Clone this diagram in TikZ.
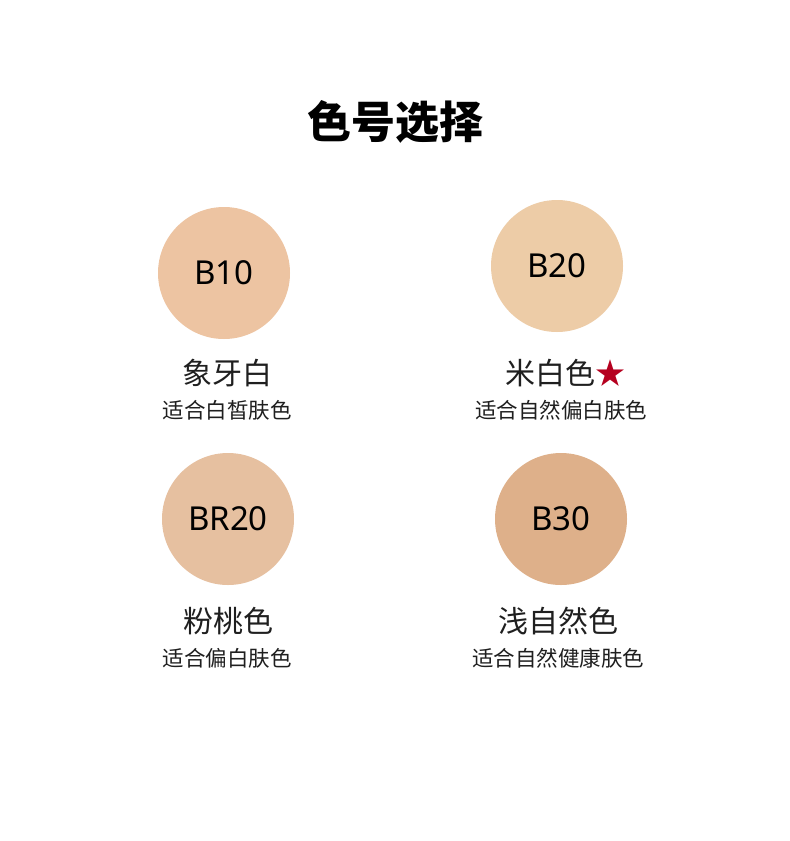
\documentclass[tikz,border=0pt]{standalone}
\usepackage{fontspec}
\setmainfont{Noto Sans}
\newfontfamily\cjk{Noto Sans CJK SC}
\definecolor{shadeA}{HTML}{EDC4A2}
\definecolor{shadeB}{HTML}{EDCCA7}
\definecolor{shadeC}{HTML}{E6C0A0}
\definecolor{shadeD}{HTML}{DEB08A}
\definecolor{starred}{HTML}{B5001F}
\begin{document}
\begin{tikzpicture}[x=1pt,y=-1pt]
\tikzstyle{every node}+=[inner sep=0pt]
\tikzstyle{swatch}=[circle, minimum size=132pt, font=\fontsize{33}{33}\selectfont]
\tikzstyle{shadename}=[font=\cjk\fontsize{30}{30}\selectfont, text=black!88]
\tikzstyle{shadenote}=[font=\cjk\fontsize{21.5}{21.5}\selectfont, text=black!88]
\useasboundingbox [fill=white] (0,0) rectangle (790,841);
\node (title) at (395,122) [font=\cjk\bfseries\fontsize{44}{44}\selectfont] {色号选择};
\node (b10) at (224,273) [swatch, fill=shadeA] {B10};
\node (b10name) at (227,373) [shadename] {象牙白};
\node (b10note) at (227,410) [shadenote] {适合白皙肤色};
\node (b20) at (557,266) [swatch, fill=shadeB] {B20};
\node (b20name) at (565,373) [shadename] {米白色\textcolor{starred}{★}};
\node (b20note) at (561,410) [shadenote] {适合自然偏白肤色};
\node (br20) at (228,519) [swatch, fill=shadeC] {BR20};
\node (br20name) at (228,621) [shadename] {粉桃色};
\node (br20note) at (227,658) [shadenote] {适合偏白肤色};
\node (b30) at (561,519) [swatch, fill=shadeD] {B30};
\node (b30name) at (558,621) [shadename] {浅自然色};
\node (b30note) at (558,658) [shadenote] {适合自然健康肤色};
\end{tikzpicture}
\end{document}
